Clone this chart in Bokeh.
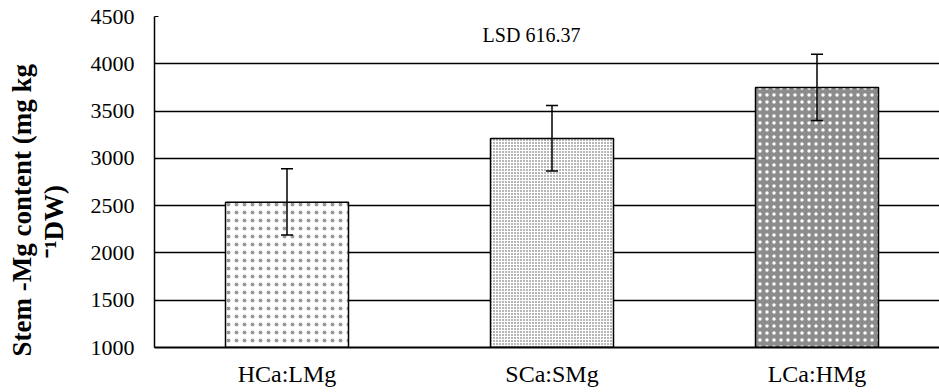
import math
from bokeh.plotting import figure
from bokeh.models import (ColumnDataSource, Range1d, FixedTicker, Whisker, TeeHead, Label, Title)
from bokeh.embed import file_html
from bokeh.resources import INLINE

# ---- data ----
categories = ["HCa:LMg", "SCa:SMg", "LCa:HMg"]
stem_mg = [2535, 3210, 3750]
err_upper = [2890, 3560, 4100]
err_lower = [2190, 2865, 3400]
y_ticks = [1000, 1500, 2000, 2500, 3000, 3500, 4000, 4500]
lsd_text = "LSD 616.37"
y_title_1 = "Stem -Mg content (mg kg"
y_title_2 = "\u207b\u00b9DW)"

# ---- styles ----
fill_colors = ["white", "white", "#8c8c8c"]
hatch_colors = ["#9a9a9a", "#4a4a4a", "white"]
hatch_scales = [8, 3, 7]
hatch_weights = [0.9, 1.3, 2.0]

FONT = "Liberation Serif"
W, H = 939, 392
LEFT, TOP, BOTTOM = 154, 16, 45
frame_w = W - LEFT
px_per_cat = 265.0
x_end = frame_w / px_per_cat
frame_h = H - TOP - BOTTOM

xs = [i + 0.5 for i in range(len(categories))]

p = figure(width=W, height=H, output_backend="svg", toolbar_location=None,
           x_range=Range1d(0, x_end), y_range=Range1d(y_ticks[0], y_ticks[-1]),
           min_border_left=LEFT, min_border_top=TOP, min_border_bottom=BOTTOM,
           min_border_right=0)
p.outline_line_color = None
p.background_fill_color = "white"

src = ColumnDataSource(dict(x=xs, top=stem_mg, up=err_upper, lo=err_lower,
                            fill=fill_colors, hc=hatch_colors, hs=hatch_scales,
                            hw=hatch_weights))
p.vbar(x="x", top="top", bottom=y_ticks[0], width=123 / px_per_cat, source=src,
       fill_color="fill", line_color="black", line_width=1.5,
       hatch_pattern="dot", hatch_color="hc", hatch_scale="hs", hatch_weight="hw")

wh = Whisker(source=src, base="x", upper="up", lower="lo", line_color="black",
             line_width=1.5, level="overlay",
             upper_head=TeeHead(size=12, line_color="black", line_width=1.5),
             lower_head=TeeHead(size=12, line_color="black", line_width=1.5))
p.add_layout(wh)

# axes
p.xaxis.ticker = FixedTicker(ticks=xs)
p.xaxis.major_label_overrides = {x: c for x, c in zip(xs, categories)}
p.xaxis.major_tick_line_color = None
p.xaxis.minor_tick_line_color = None
p.xaxis.axis_line_color = "black"
p.xaxis.axis_line_width = 2
p.xaxis.major_label_text_font = FONT
p.xaxis.major_label_text_font_size = "24px"
p.xaxis.major_label_text_color = "black"
p.xaxis.major_label_standoff = 7

p.yaxis.ticker = FixedTicker(ticks=y_ticks)
p.yaxis.major_tick_in = 4
p.yaxis.major_tick_out = 0
p.yaxis.minor_tick_line_color = None
p.yaxis.axis_line_color = "black"
p.yaxis.axis_line_width = 1.5
p.yaxis.major_tick_line_color = "black"
p.yaxis.major_label_text_font = FONT
p.yaxis.major_label_text_font_size = "22px"
p.yaxis.major_label_text_color = "black"
p.yaxis.major_label_standoff = 20
# blank spacer label to push the two title lines outward
p.yaxis.axis_label = " "
p.yaxis.axis_label_text_font_size = "8px"
p.yaxis.axis_label_standoff = 7

p.xgrid.grid_line_color = None
p.ygrid.grid_line_color = "black"
p.ygrid.grid_line_width = 1.3

def dx(px):
    return (px - LEFT) / px_per_cat

def dy(py):
    top_v, bot_v = y_ticks[-1], y_ticks[0]
    return top_v - (py - TOP) * (top_v - bot_v) / frame_h

p.add_layout(Label(x=dx(531), y=dy(34), text=lsd_text, text_font=FONT,
                   text_font_size="20px", text_align="center",
                   text_baseline="middle", text_color="black"))

# y-axis title in two lines (inner line added first)
p.add_layout(Title(text=y_title_2, align="left", offset=90, standoff=0,
                   text_font=FONT, text_font_style="bold",
                   text_font_size="27px", text_color="black"), "left")
p.add_layout(Title(text=y_title_1, align="left", offset=-9, standoff=0,
                   text_font=FONT, text_font_style="bold",
                   text_font_size="27px", text_color="black"), "left")

open("out.html", "w").write(file_html(p, INLINE))
